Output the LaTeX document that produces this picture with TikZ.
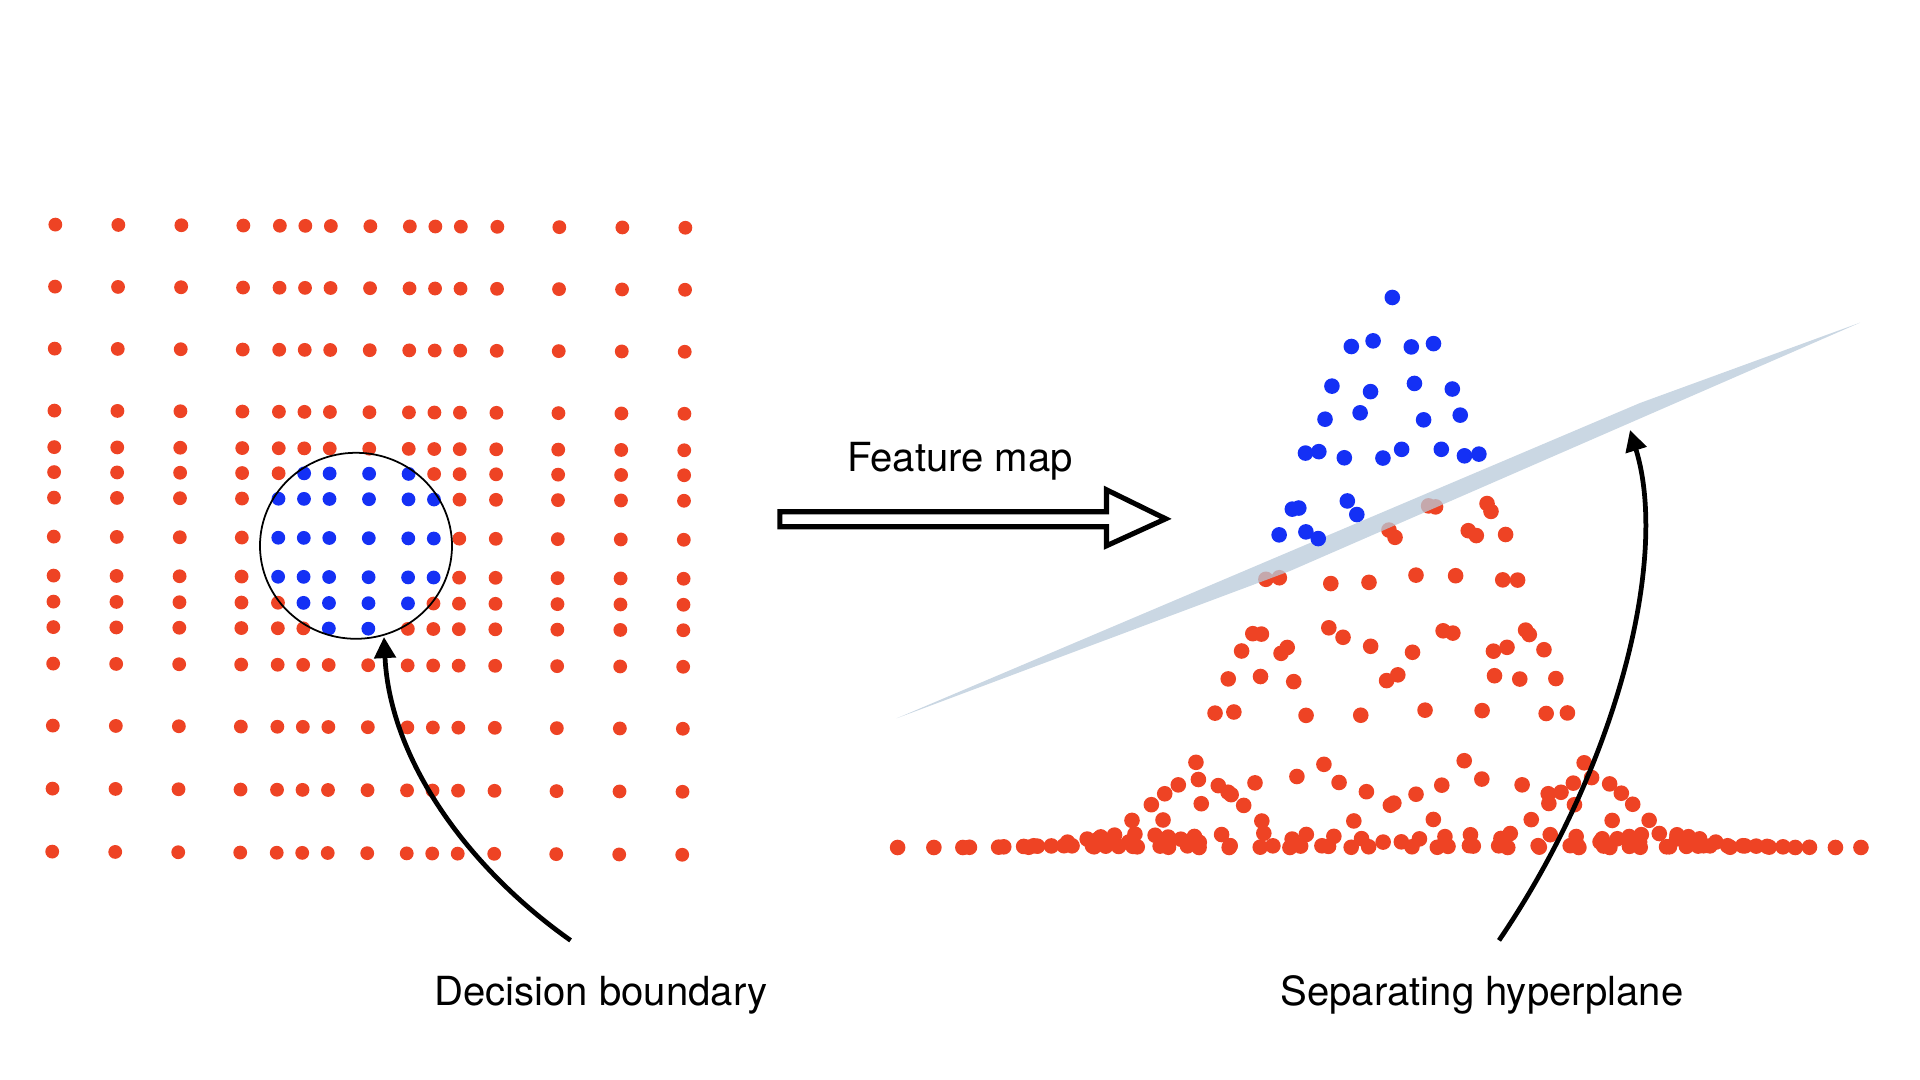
\documentclass[tikz,border=0pt]{standalone}
\usepackage{fontspec}
\setmainfont{TeX Gyre Heros}
\usetikzlibrary{arrows.meta}
\definecolor{dotred}{RGB}{238,67,36}
\definecolor{dotblue}{RGB}{20,48,245}
\definecolor{planec}{RGB}{184,202,218}
\tikzset{
  label text/.style={font=\fontsize{11.4}{13.7}\selectfont, inner sep=0pt, anchor=base},
  curvearrow/.style={line width=1.35pt, -{Triangle[length=6pt,width=6pt]}},
  hollowarrow/.style={line width=1.45pt, fill=white, line join=miter},
  boundary/.style={line width=0.5pt},
  plane/.style={fill=planec, fill opacity=0.75},
}
\newcommand{\ulist}{-315,-252,-189,-127,-90.5,-65,-39.5,0,39.5,65,90.5,127,189,252,315}
\newcommand{\vlist}{-312,-250,-188,-126,-89.5,-64.5,-39,0,39,65,90.5,127,189,252,315}
\begin{document}
\begin{tikzpicture}[x=0.01cm,y=-0.01cm]
\useasboundingbox (0,0) rectangle (1920,1080);

% ---------- left: input grid ----------
\foreach \u in \ulist {
  \foreach \v in \vlist {
    \pgfmathsetmacro\ex{((12.8+(\u))/96)^2+(((\v)-7.6)/93)^2}
    \pgfmathsetmacro\px{368.8+(\u)-0.005*(\v)}
    \pgfmathsetmacro\py{538.2+(\v)+0.005*(\u)}
    \ifdim\ex pt<0.94pt \def\dc{dotblue}\else\def\dc{dotred}\fi
    \fill[\dc] (\px,\py) circle[radius=0.069cm];
  }
}
\draw[boundary] (356,545.8) ellipse[x radius=96, y radius=93];

% ---------- right: mapped points (red first) ----------
\foreach \u in \ulist {
  \foreach \v in \vlist {
    \pgfmathsetmacro\ex{((12.8+(\u))/96)^2+(((\v)-7.6)/93)^2}
    \ifdim\ex pt<0.94pt\else
      \pgfmathsetmacro\X{1.04*(\u)-0.49*(\v)}
      \pgfmathsetmacro\dd{-0.49*(\u)-1.04*(\v)}
      \pgfmathsetmacro\k{6735/(6735+\dd)}
      \pgfmathsetmacro\z{exp(-(((\u)/100)^2+((\v)/100)^2)/1.7198)}
      \fill[dotred] ({1392.3+\X*\k},{847.5-550*\z*\k}) circle[radius=0.078cm];
    \fi
  }
}
% separating hyperplane
\fill[plane] (896.7,718.3) -- (1290,571) -- (1860,322.7) -- (1640,403) -- cycle;
% blue points
\foreach \u in \ulist {
  \foreach \v in \vlist {
    \pgfmathsetmacro\ex{((12.8+(\u))/96)^2+(((\v)-7.6)/93)^2}
    \ifdim\ex pt<0.94pt
      \pgfmathsetmacro\X{1.04*(\u)-0.49*(\v)}
      \pgfmathsetmacro\dd{-0.49*(\u)-1.04*(\v)}
      \pgfmathsetmacro\k{6735/(6735+\dd)}
      \pgfmathsetmacro\z{exp(-(((\u)/100)^2+((\v)/100)^2)/1.7198)}
      \fill[dotblue] ({1392.3+\X*\k},{847.5-550*\z*\k}) circle[radius=0.078cm];
    \fi
  }
}

% ---------- feature map arrow ----------
\draw[hollowarrow] (779.8,511.8) -- (1106.5,511.8) -- (1106.5,489.8) -- (1165.7,518.8)
  -- (1106.5,545.8) -- (1106.5,526.8) -- (779.8,526.8) -- cycle;
\node[label text] (fm) at (960,471.5) {Feature map};

% ---------- labels and pointer arrows ----------
\node[label text] (db) at (601,1005.5) {Decision boundary};
\node[label text] (sh) at (1482,1005.5) {Separating hyperplane};
\coordinate (a1s) at (570.6,940.4);
\coordinate (a1e) at (384,637);
\coordinate (a2s) at (1499,940.4);
\coordinate (a2e) at (1630,430);
\draw[curvearrow] (a1s) .. controls (468,868) and (390,760) .. (a1e);
\draw[curvearrow] (a2s) .. controls (1615,770) and (1670,560) .. (a2e);
\end{tikzpicture}
\end{document}
